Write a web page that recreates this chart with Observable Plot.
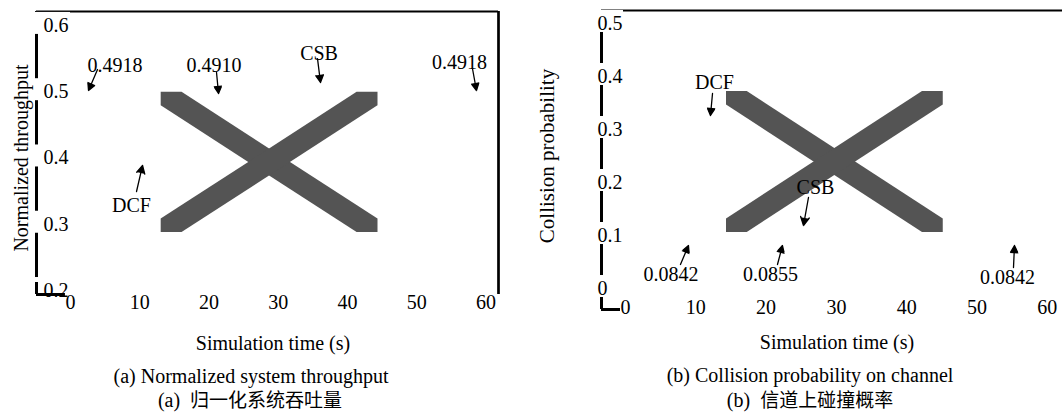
<!DOCTYPE html>
<html><head><meta charset="utf-8">
<script src="https://cdn.jsdelivr.net/npm/d3@7"></script>
<script src="https://cdn.jsdelivr.net/npm/@observablehq/plot@0.6"></script>
<style>
body{margin:0;background:#fff;}
#wrap{position:relative;width:1062px;height:412px;overflow:hidden;background:#fff;font-family:"Liberation Serif","Times New Roman",serif;color:#000;}
.t{position:absolute;transform:translate(-50%,-50%);white-space:pre;font-family:"Liberation Serif","Times New Roman",serif;font-size:20px;line-height:1;}
.rot{transform:translate(-50%,-50%) rotate(-90deg);}
.cjk{font-family:"Noto Sans CJK SC",sans-serif;font-size:19px;line-height:1;}
#pa,#pb{position:absolute;top:0;}
svg text{font-family:"Liberation Serif","Times New Roman",serif;}
</style></head><body>
<div id="wrap">
  <div id="pa" style="left:0"></div>
  <div id="pb" style="left:530px"></div>
  <div class="t rot" style="left:21px;top:158px;font-size:20px">Normalized throughput</div>
  <div class="t rot" style="left:547px;top:156px;font-size:21px">Collision probability</div>
  <div class="t" style="left:273px;top:343px">Simulation time (s)</div>
  <div class="t" style="left:837px;top:342px">Simulation time (s)</div>
  <div class="t" style="left:251px;top:376px">(a) Normalized system throughput</div>
  <div class="t" style="left:250px;top:399px">(a)  <span class="cjk">归一化系统吞吐量</span></div>
  <div class="t" style="left:810px;top:375px">(b) Collision probability on channel</div>
  <div class="t" style="left:810px;top:399px">(b)  <span class="cjk">信道上碰撞概率</span></div>
</div>
<script>
// ---- data ----
const xTicks = [0, 10, 20, 30, 40, 50, 60];
const yTicksA = [0.2, 0.3, 0.4, 0.5, 0.6];
const yTicksB = [0, 0.1, 0.2, 0.3, 0.4, 0.5];

// panel (a): placeholder X box (data units)
const xBoxA = [13.1, 44.4];
const yBoxA = [0.2875, 0.499];
// panel (b)
const xBoxB = [14.37, 45.2];
const yBoxB = [0.1057, 0.3717];

// annotations (a)
const labelsA = ["0.4918", "0.4910", "CSB", "0.4918", "DCF"];
const labelXA = [6.44, 20.72, 35.89, 56.17, 8.82];
const labelYA = [0.5395, 0.5395, 0.5576, 0.544, 0.3283];
const arrowsA = [
  [3.91, 0.5335, 2.61, 0.5018],
  [21.09, 0.529, 21.38, 0.4973],
  [35.67, 0.55, 36.1, 0.5139],
  [58.04, 0.535, 58.62, 0.5018],
  [9.54, 0.3494, 10.41, 0.3887]
];
// annotations (b)
const labelsB = ["DCF", "CSB", "0.0842", "0.0855", "0.0842"];
const labelXB = [12.66, 27.03, 6.47, 20.63, 54.34];
const labelYB = [0.3887, 0.1906, 0.0264, 0.0264, 0.0208];
const arrowsB = [
  [12.38, 0.3679, 12.09, 0.3264],
  [26.03, 0.1717, 25.32, 0.1189],
  [7.82, 0.0453, 8.96, 0.0811],
  [21.62, 0.0453, 22.33, 0.0811],
  [55.19, 0.0396, 55.33, 0.0811]
];

const SERIF = "Liberation Serif";

function panel(o) {
  const H = 320;
  const sx = d3.scaleLinear(o.xDom, [o.mL, o.width - o.mR]);
  const sy = d3.scaleLinear(o.yDom, [H - o.mB, o.mT]);
  const [x0, x1] = o.xBox, [y0, y1] = o.yBox;
  const hy = sy.invert(0) - sy.invert(13.5);
  const s = (y1 - y0) / (x1 - x0);
  const hx = hy / s;
  const xs = [x0, x0 + hx, x1 - hx, x1];
  const band = dir => xs.map(x => {
    const yc = dir < 0 ? y1 - (x - x0) * s : y0 + (x - x0) * s;
    return {x, lo: Math.max(yc - hy, y0), hi: Math.min(yc + hy, y1)};
  });
  const heads = o.arrows.map(a => {
    const px1 = sx(a[0]), py1 = sy(a[1]), px2 = sx(a[2]), py2 = sy(a[3]);
    const L = Math.hypot(px2 - px1, py2 - py1);
    const ux = (px2 - px1) / L, uy = (py2 - py1) / L;
    const off = 5.2;
    return {x: sx.invert(px2 - ux * off), y: sy.invert(py2 - uy * off),
            r: Math.atan2(ux, -uy) * 180 / Math.PI};
  });
  const marks = [
    Plot.ruleX([o.xDom[0]], {y1: () => o.yDom[0], y2: () => o.yDom[1], strokeWidth: 3, stroke: "black"}),
    Plot.ruleY([o.yDom[1]], {x1: () => o.xDom[0], x2: () => o.xDom[1], strokeWidth: 2.2, stroke: "black"})
  ];
  if (o.rightLine) marks.push(Plot.ruleX([o.xDom[1]], {y1: () => o.yDom[0], y2: () => o.yDom[1], strokeWidth: 2.7, stroke: "black"}));
  marks.push(
    Plot.rect(o.yTicks, {x1: () => sx.invert(o.mL + o.boxL), x2: () => sx.invert(o.mL + o.boxR),
      y1: d => sy.invert(sy(d) + 9), y2: d => sy.invert(sy(d) - 13), fill: "white"}),
    Plot.ruleY([o.yDom[0]], {x1: () => o.xDom[0], x2: () => sx.invert(sx(0) - 5), strokeWidth: 3, stroke: "black"}),
    Plot.ruleX([o.xDom[0]], {y1: () => o.yDom[0], y2: () => sy.invert(sy(o.yDom[0]) - 12), strokeWidth: 3, stroke: "black"}),
    Plot.area(band(-1), {x1: "x", y1: "lo", y2: "hi", fill: "#545454"}),
    Plot.area(band(1), {x1: "x", y1: "lo", y2: "hi", fill: "#545454"}),
    Plot.text(o.yTicks, {x: () => o.xDom[0], y: d => d, text: d => String(d), dx: o.labelDx, textAnchor: "start", fontSize: 20, fontFamily: SERIF, fill: "black"}),
    Plot.text(xTicks, {x: d => d, y: () => o.yDom[0], dy: o.xLabelDy, text: d => String(d), fontSize: 20, fontFamily: SERIF, fill: "black"}),
    Plot.text(o.labels, {x: (d, i) => o.lx[i], y: (d, i) => o.ly[i], text: d => d, fontSize: 20, fontFamily: SERIF, fill: "black"}),
    Plot.arrow(o.arrows, {x1: d => d[0], y1: d => d[1], x2: d => d[2], y2: d => d[3], headLength: 11, headAngle: 55, strokeWidth: 1.3, stroke: "black"}),
    Plot.dot(heads, {x: "x", y: "y", rotate: "r", symbol: "triangle", r: 3.2, fill: "black", stroke: "none"})
  );
  return Plot.plot({
    width: o.width, height: H,
    marginLeft: o.mL, marginRight: o.mR, marginTop: o.mT, marginBottom: o.mB,
    x: {domain: o.xDom, axis: null},
    y: {domain: o.yDom, axis: null},
    style: {fontFamily: "'Liberation Serif', 'Times New Roman', serif", fontSize: "20px", background: "transparent", overflow: "visible", color: "black"},
    marks
  });
}

document.getElementById("pa").append(panel({
  width: 530, mL: 36, mR: 32, mT: 11, mB: 26,
  xDom: [-4.9, 61.8], yDom: [0.194, 0.621],
  xBox: xBoxA, yBox: yBoxA, yTicks: yTicksA,
  labelDx: 7, xLabelDy: 8, boxL: -8, boxR: 34, rightLine: true,
  labels: labelsA, lx: labelXA, ly: labelYA, arrows: arrowsA
}));
document.getElementById("pb").append(panel({
  width: 532, mL: 71, mR: 0, mT: 10, mB: 11,
  xDom: [-3.41, 62.16], yDom: [-0.0396, 0.5245],
  xBox: xBoxB, yBox: yBoxB, yTicks: yTicksB,
  labelDx: -4, xLabelDy: -2, boxL: -14, boxR: 22, rightLine: false,
  labels: labelsB, lx: labelXB, ly: labelYB, arrows: arrowsB
}));
</script>
</body></html>
